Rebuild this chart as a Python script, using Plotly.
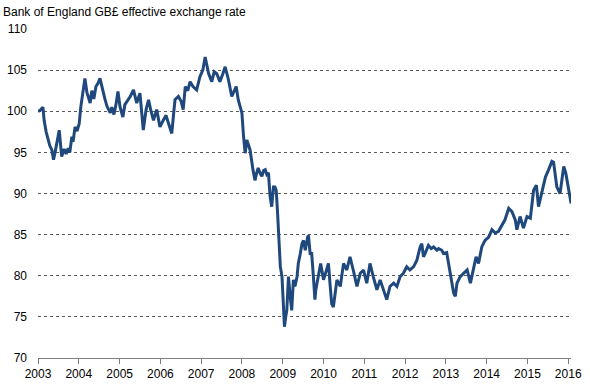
import pandas as pd
import plotly.graph_objects as go

title_text = "Bank of England GB£ effective exchange rate"

# decimal years and index values
years = [
    2003.00, 2003.05, 2003.12, 2003.15, 2003.20, 2003.25, 2003.29, 2003.34, 2003.38, 2003.42,
    2003.47, 2003.52, 2003.58, 2003.64, 2003.69, 2003.74, 2003.78, 2003.83, 2003.86, 2003.91,
    2003.96, 2004.01, 2004.05, 2004.10, 2004.15, 2004.20, 2004.28, 2004.32, 2004.37, 2004.42,
    2004.47, 2004.52, 2004.59, 2004.64, 2004.69, 2004.77, 2004.81, 2004.86, 2004.91, 2004.96,
    2005.01, 2005.08, 2005.13, 2005.18, 2005.26, 2005.34, 2005.42, 2005.50, 2005.54, 2005.58,
    2005.65, 2005.71, 2005.77, 2005.83, 2005.91, 2005.99, 2006.07, 2006.14, 2006.20, 2006.24,
    2006.28, 2006.32, 2006.36, 2006.44, 2006.51, 2006.56, 2006.61, 2006.67, 2006.73, 2006.80,
    2006.89, 2006.97, 2007.04, 2007.10, 2007.18, 2007.26, 2007.32, 2007.38, 2007.46, 2007.53,
    2007.59, 2007.63, 2007.67, 2007.75, 2007.81, 2007.86, 2007.91, 2007.95, 2008.00, 2008.04,
    2008.08, 2008.12, 2008.16, 2008.20, 2008.27, 2008.32, 2008.36, 2008.40, 2008.45, 2008.49,
    2008.53, 2008.57, 2008.61, 2008.65, 2008.67, 2008.69, 2008.73, 2008.77, 2008.81, 2008.84,
    2008.87, 2008.89, 2008.92, 2008.94, 2008.98, 2009.02, 2009.04, 2009.07, 2009.10, 2009.12,
    2009.14, 2009.18, 2009.22, 2009.26, 2009.30, 2009.35, 2009.38, 2009.43, 2009.47, 2009.51,
    2009.55, 2009.61, 2009.63, 2009.67, 2009.71, 2009.75, 2009.79, 2009.81, 2009.88, 2009.93,
    2010.00, 2010.08, 2010.12, 2010.16, 2010.20, 2010.24, 2010.29, 2010.33, 2010.41, 2010.49,
    2010.57, 2010.65, 2010.73, 2010.82, 2010.90, 2010.98, 2011.06, 2011.14, 2011.22, 2011.31,
    2011.39, 2011.47, 2011.55, 2011.63, 2011.72, 2011.80, 2011.88, 2011.96, 2012.04, 2012.12,
    2012.21, 2012.29, 2012.37, 2012.41, 2012.45, 2012.49, 2012.57, 2012.64, 2012.70, 2012.78,
    2012.82, 2012.90, 2012.94, 2013.02, 2013.06, 2013.11, 2013.15, 2013.19, 2013.23, 2013.27,
    2013.35, 2013.43, 2013.52, 2013.60, 2013.68, 2013.74, 2013.80, 2013.88, 2013.96, 2014.05,
    2014.13, 2014.21, 2014.29, 2014.37, 2014.45, 2014.54, 2014.62, 2014.70, 2014.74, 2014.82,
    2014.90, 2014.99, 2015.07, 2015.15, 2015.22, 2015.27, 2015.35, 2015.44, 2015.52, 2015.60,
    2015.64, 2015.68, 2015.72, 2015.80, 2015.89, 2015.94, 2016.01, 2016.07,
]

eri = [
    100.0, 100.1, 100.5, 98.9, 97.5, 96.5, 95.8, 95.3, 94.1, 95.0,
    96.2, 97.7, 94.5, 95.4, 94.8, 95.5, 95.0, 96.9, 96.3, 98.1,
    97.6, 98.5, 100.5, 102.5, 104.0, 102.3, 101.0, 102.5, 101.5, 103.0,
    103.4, 104.0, 102.4, 101.5, 100.6, 99.8, 100.5, 99.6, 100.8, 102.4,
    100.5, 99.3, 100.8, 101.2, 101.8, 102.6, 101.0, 102.2, 100.0, 97.7,
    100.2, 101.4, 100.0, 98.9, 100.2, 98.1, 98.9, 99.5, 98.5, 98.0,
    97.3, 99.5, 101.4, 101.8, 101.2, 100.2, 103.0, 102.5, 103.6, 103.0,
    102.6, 104.2, 105.0, 106.6, 104.6, 103.6, 104.8, 104.6, 103.6, 104.5,
    105.4, 104.6, 103.8, 101.8, 102.5, 103.0, 101.4, 100.5, 99.8, 96.9,
    94.9, 96.5, 95.8, 95.3, 92.9, 91.6, 92.5, 93.1, 92.4, 92.1,
    92.8, 92.9, 92.3, 92.5, 91.0, 89.6, 88.4, 90.8, 90.8, 90.4,
    88.0, 85.2, 83.0, 81.1, 79.9, 76.6, 73.8, 75.0, 75.8, 78.0,
    79.9, 77.5, 75.8, 79.5, 78.7, 79.9, 81.5, 82.7, 83.9, 84.3,
    83.1, 84.7, 84.9, 82.7, 82.7, 79.9, 77.1, 78.3, 80.3, 81.5,
    79.5, 80.7, 81.5, 79.0, 76.6, 76.2, 78.0, 79.5, 78.7, 81.5,
    80.7, 82.3, 80.7, 78.7, 80.3, 80.7, 79.1, 81.5, 79.9, 78.3,
    79.5, 78.3, 77.1, 78.7, 79.1, 78.7, 79.9, 80.3, 81.1, 80.7,
    81.1, 81.9, 83.5, 83.9, 82.3, 82.7, 83.7, 83.3, 83.5, 83.1,
    83.3, 83.1, 82.7, 82.8, 81.5, 79.9, 78.7, 77.9, 77.5, 79.1,
    79.9, 80.3, 80.7, 79.1, 81.1, 82.3, 81.5, 83.5, 84.3, 84.7,
    85.6, 85.2, 85.4, 86.2, 86.8, 88.2, 87.8, 86.8, 85.6, 87.2,
    85.8, 87.2, 87.0, 90.4, 91.0, 88.4, 90.0, 92.0, 92.9, 93.9,
    93.8, 92.5, 90.8, 90.0, 93.3, 92.5, 90.4, 88.8,
]

tick_years = list(range(2003, 2017))
y_ticks = [70, 75, 80, 85, 90, 95, 100, 105, 110]


def to_date(y):
    yr = int(y)
    start = pd.Timestamp(year=yr, month=1, day=1)
    days = (pd.Timestamp(year=yr + 1, month=1, day=1) - start).days
    return start + pd.Timedelta(days=round((y - yr) * days))


dates = [to_date(y) for y in years]
tick_dates = [pd.Timestamp(year=y, month=1, day=1) for y in tick_years]

fig = go.Figure()
fig.add_trace(go.Scatter(
    x=dates, y=eri, mode="lines",
    line=dict(color="#1F497D", width=3),
    showlegend=False, hoverinfo="skip",
))

fig.update_layout(
    width=590, height=385,
    margin=dict(l=38, r=19, t=29, b=27, autoexpand=False),
    paper_bgcolor="white", plot_bgcolor="white",
    font=dict(family="Liberation Sans, Arial, sans-serif", size=12, color="#000000"),
    title=dict(text=title_text, xref="container", yref="container",
               x=3 / 590, xanchor="left", y=1 - 12 / 385, yanchor="middle",
               font=dict(size=12, color="#000000"), automargin=False),
)

fig.update_xaxes(
    type="date", automargin=False,
    range=[tick_dates[0], pd.Timestamp("2016-01-26")],
    tickvals=tick_dates, ticktext=[str(y) for y in tick_years],
    showgrid=False, showline=True, linecolor="#7F7F7F", linewidth=1,
    ticks="outside", ticklen=5, tickcolor="#7F7F7F",
    zeroline=False,
)
fig.update_yaxes(
    automargin=False,
    range=[70, 110], tickvals=y_ticks,
    showgrid=True, gridcolor="#595959", gridwidth=1, griddash="3px,3px",
    showline=False, zeroline=False, ticks="", ticklabelstandoff=10,
)

fig.write_html(
    "out.html",
    config={"displayModeBar": False},
    post_script="document.body.style.margin='0';document.body.style.overflow='hidden';",
)
